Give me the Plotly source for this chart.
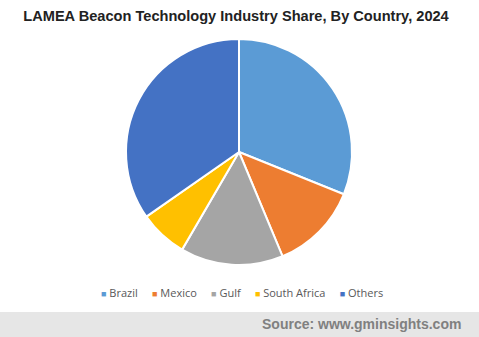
import plotly.graph_objects as go

countries = ["Brazil", "Mexico", "Gulf", "South Africa", "Others"]
shares = [31.1, 12.6, 14.7, 6.9, 34.7]
colors = ["#5B9BD5", "#ED7D31", "#A5A5A5", "#FFC000", "#4472C4"]

W, H = 479, 337
fig = go.Figure()
fig.add_trace(go.Pie(
    labels=countries, values=shares, sort=False, direction="clockwise", rotation=0,
    marker=dict(colors=colors, line=dict(color="white", width=2)),
    textinfo="none", hoverinfo="label+percent", showlegend=False,
    domain=dict(x=[126 / W, 352 / W], y=[1 - 265 / H, 1 - 39 / H]),
))

gap = "\u00a0" * 5
legend_html = gap.join(
    f'<span style="color:{c};font-size:9px">■</span>\u00a0{n}' for n, c in zip(countries, colors)
)

fig.update_layout(
    width=W, height=H, margin=dict(l=0, r=0, t=0, b=0),
    paper_bgcolor="white", plot_bgcolor="white",
    title=dict(text="<b>LAMEA Beacon Technology Industry Share, By Country, 2024</b>",
               x=236 / W, xanchor="center", y=1 - 16 / H, yanchor="middle",
               font=dict(family="Liberation Sans, Arial", size=14.6, color="#222222")),
    shapes=[dict(type="rect", xref="paper", yref="paper", x0=0, x1=1, y0=0, y1=25 / H,
                 fillcolor="#E6E6E6", line=dict(width=0), layer="below")],
    annotations=[
        dict(text=legend_html, xref="paper", yref="paper", x=242 / W, xanchor="center",
             y=1 - 292 / H, yanchor="middle", showarrow=False,
             font=dict(family="Open Sans, Calibri", size=11, color="#595959")),
        dict(text="<b>Source: www.gminsights.com</b>", xref="paper", yref="paper",
             x=463 / W, xanchor="right", y=13 / H, yanchor="middle", showarrow=False,
             font=dict(family="Liberation Sans, Arial", size=14, color="#808080")),
    ],
)
fig.write_html("out.html")
